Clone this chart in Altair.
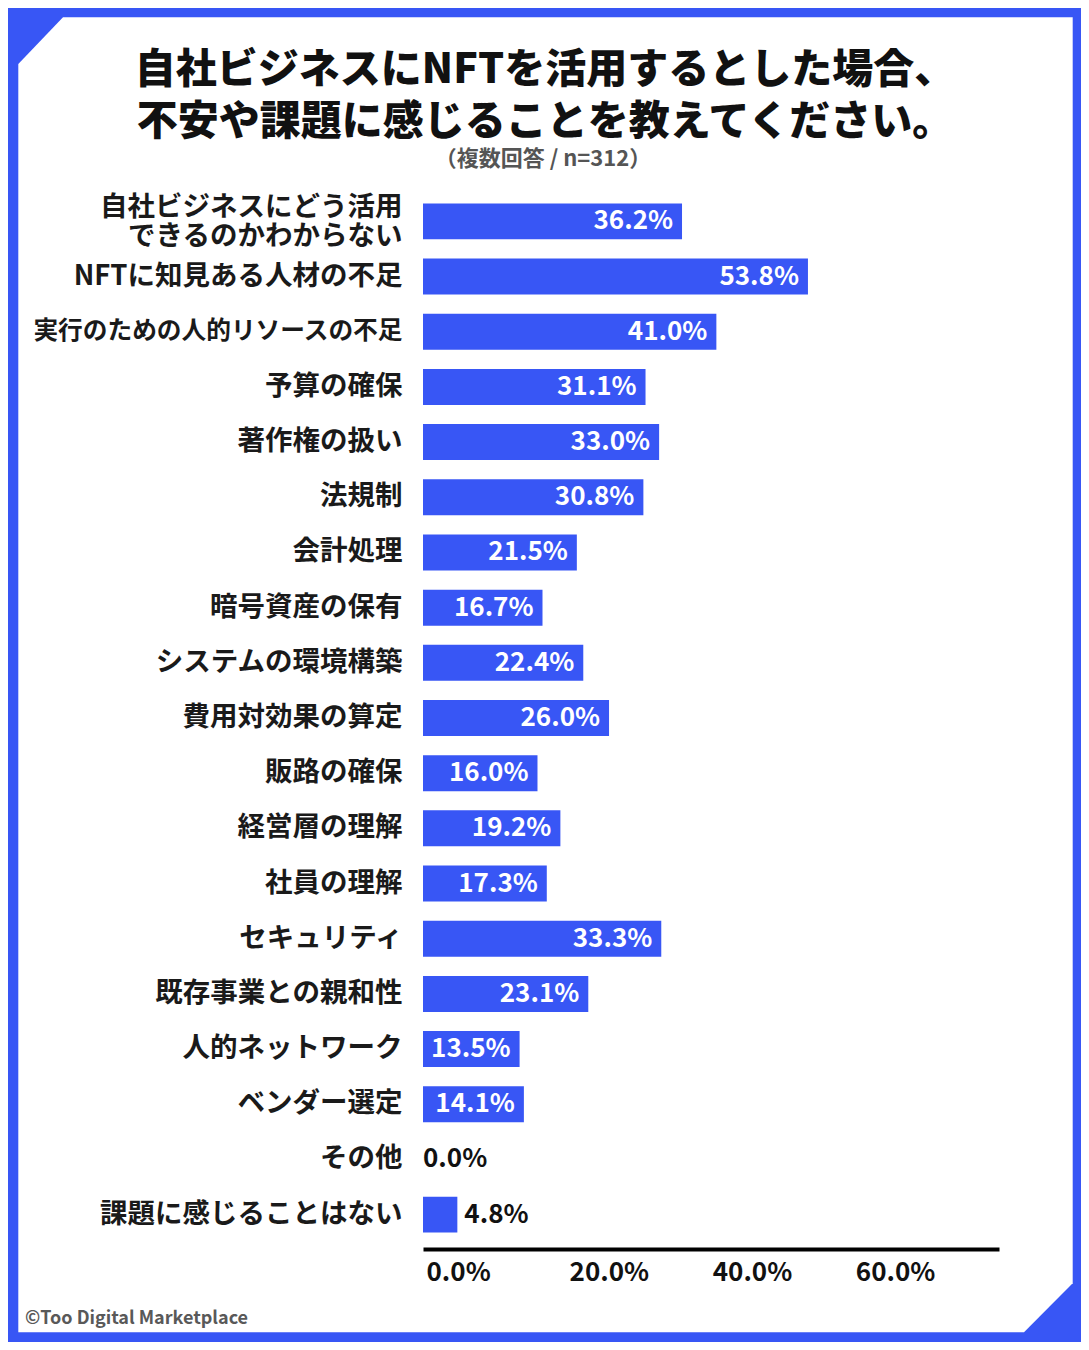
import altair as alt
import pandas as pd

# ---- data ----
categories = [
    "自社ビジネスにどう活用\nできるのかわからない",
    "NFTに知見ある人材の不足",
    "実行のための人的リソースの不足",
    "予算の確保",
    "著作権の扱い",
    "法規制",
    "会計処理",
    "暗号資産の保有",
    "システムの環境構築",
    "費用対効果の算定",
    "販路の確保",
    "経営層の理解",
    "社員の理解",
    "セキュリティ",
    "既存事業との親和性",
    "人的ネットワーク",
    "ベンダー選定",
    "その他",
    "課題に感じることはない",
]
values = [36.2, 53.8, 41.0, 31.1, 33.0, 30.8, 21.5, 16.7, 22.4, 26.0,
          16.0, 19.2, 17.3, 33.3, 23.1, 13.5, 14.1, 0.0, 4.8]
x_ticks = [0, 20, 40, 60]
title_lines = ["自社ビジネスにNFTを活用するとした場合、", "不安や課題に感じることを教えてください。"]
subtitle = "（複数回答 / n=312）"
footer = "©Too Digital Marketplace"
long_label = "実行のための人的リソースの不足"

# ---- layout / style ----
BLUE = "#3856F5"
FONT = "Noto Sans CJK JP"
TOTAL_W, TOTAL_H = 1073, 1334
L, T = 415, 179
W, H = 576, 1062
R = TOTAL_W - L - W
B = TOTAL_H - T - H

# white panel outline (canvas pixels)
frame_x = [10.3, 55, 1016, 1064.7]
frame_top = [56, 9.3, 9.3, 9.3]
frame_bottom = [1324.3, 1324.3, 1324.3, 1275.3]

frame_df = pd.DataFrame({"fx": frame_x, "fy": frame_top, "fy2": frame_bottom})
frame = alt.Chart(frame_df).mark_area(color="white", interpolate="linear").encode(
    x=alt.X("fx:Q", scale=alt.Scale(domain=[0, TOTAL_W], range=[-L, TOTAL_W - L], zero=False, nice=False), axis=None),
    y=alt.Y("fy:Q", scale=alt.Scale(domain=[0, TOTAL_H], range=[-T, TOTAL_H - T], zero=False, nice=False), axis=None),
    y2="fy2:Q",
)

df = pd.DataFrame({"cat": categories, "val": values})

y_enc = alt.Y(
    "cat:N",
    sort=None,
    scale=alt.Scale(domain=categories, paddingInner=0.348, paddingOuter=0.297),
    axis=alt.Axis(
        orient="left", title=None, ticks=False, domain=False, zindex=1,
        labelFont=FONT,
        labelFontSize={"condition": {"test": f"datum.value == '{long_label}'", "value": 24.7}, "value": 27.5},
        labelOffset={"condition": {"test": "indexof(datum.value, '\\n') >= 0", "value": -13}, "value": 0},
        labelFontWeight="bold", labelColor="#1a1a1a", labelPadding=21, labelLimit=1000,
        labelExpr="split(datum.label, '\\n')", labelLineHeight=29,
    ),
)
x_enc = alt.X(
    "val:Q",
    scale=alt.Scale(domain=[0, 80.5], nice=False, zero=True),
    axis=alt.Axis(
        orient="bottom", values=x_ticks, title=None, grid=False, ticks=False, zindex=1,
        labelExpr="format(datum.value, '.1f') + '%'",
        labelAlign="left", labelOffset=3, labelPadding=10,
        labelFont=FONT, labelFontSize=26, labelFontWeight="bold", labelColor="#111",
        labelFlush=False, labelOverlap=False,
        domainColor="black", domainWidth=4,
    ),
)

base = alt.Chart(df).transform_calculate(lbl="format(datum.val, '.1f') + '%'").encode(y=y_enc, x=x_enc)

bars = base.mark_bar(color=BLUE)
inside = base.transform_filter("datum.val >= 10").mark_text(
    align="right", baseline="middle", dx=-9, color="white", font=FONT, fontSize=26, fontWeight="bold"
).encode(text="lbl:N")
outside = base.transform_filter("datum.val > 0 && datum.val < 10").mark_text(
    align="left", baseline="middle", dx=7, color="#111", font=FONT, fontSize=26, fontWeight="bold"
).encode(text="lbl:N")
zero = base.transform_filter("datum.val == 0").mark_text(
    align="left", baseline="middle", dx=0, color="#111", font=FONT, fontSize=26, fontWeight="bold"
).encode(text="lbl:N")

inner = alt.layer(bars, inside, outside, zero)

one = pd.DataFrame({"k": [0]})
title_mark = alt.Chart(one).mark_text(
    text=title_lines, align="center", baseline="middle", lineHeight=52,
    font=FONT, fontSize=41, fontWeight=900, color="#111",
).encode(x=alt.value(122), y=alt.value(-116))
subtitle_mark = alt.Chart(one).mark_text(
    text=subtitle, align="center", baseline="middle",
    font=FONT, fontSize=22, fontWeight="bold", color="#555",
).encode(x=alt.value(120), y=alt.value(-28))
foot = alt.Chart(one).mark_text(
    text=footer, align="left", baseline="middle", font=FONT, fontSize=18, fontWeight="bold", color="#595959"
).encode(x=alt.value(17 - L), y=alt.value(1311 - T))

chart = alt.layer(frame, inner, title_mark, subtitle_mark, foot).resolve_scale(
    x="independent", y="independent"
).properties(
    width=W, height=H,
    padding={"left": L, "top": T, "right": R, "bottom": B},
    autosize=alt.AutoSizeParams(type="none"),
    background=BLUE,
).configure_view(stroke=None)

chart.save("out.html", embed_options={"renderer": "svg", "actions": False})
